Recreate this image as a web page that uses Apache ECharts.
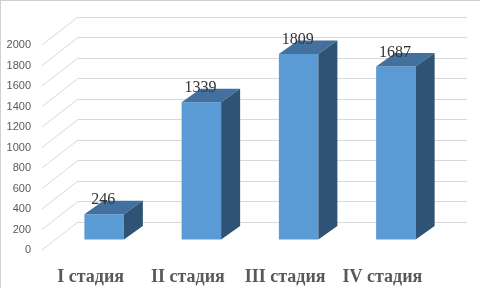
<!DOCTYPE html>
<html>
<head>
<meta charset="utf-8">
<script src="https://cdn.jsdelivr.net/npm/echarts@6/dist/echarts.min.js"></script>
<style>
html,body{margin:0;padding:0;background:#fff;}
#wrap{position:relative;width:480px;height:288px;}
#chart{position:absolute;left:0;top:0;width:480px;height:288px;}
#frame{position:absolute;left:0;top:0;width:480px;height:288px;box-sizing:border-box;border-left:1px solid #d0d0d0;border-top:1px solid #d0d0d0;pointer-events:none;}
</style>
</head>
<body>
<div id="wrap"><div id="chart"></div><div id="frame"></div></div>
<script>
const categories = ['I стадия', 'II стадия', 'III стадия', 'IV стадия'];
const values = [246, 1339, 1809, 1687];
const yTicks = [0, 200, 400, 600, 800, 1000, 1200, 1400, 1600, 1800, 2000];

const DEPTH_X = 36, DEPTH_Y = -28;      // wall depth
const BAR_Z0 = 0.375;                    // bar front position in depth
const BAR_DX = 19, BAR_DY = -13.5;       // bar depth
const BAR_W = 39.5;

const chart = echarts.init(document.getElementById('chart'), null, {renderer: 'canvas'});

const option = {
  backgroundColor: '#ffffff',
  animation: false,
  grid: [
    {left: 42, right: 49, top: 45, bottom: 38},
    {left: 78, right: 13, top: 17, bottom: 66}
  ],
  xAxis: [
    {
      type: 'category', data: categories, gridIndex: 0,
      axisLine: {show: false}, axisTick: {show: false},
      axisLabel: {interval: 0, fontFamily: 'Liberation Serif', fontWeight: 'bold', fontSize: 18, color: '#595959', margin: 18}
    },
    {type: 'category', data: categories, gridIndex: 1, show: false}
  ],
  yAxis: [
    {
      type: 'value', gridIndex: 0, min: 0, max: 2000, interval: 200,
      axisLine: {show: false}, axisTick: {show: false}, splitLine: {show: false},
      axisLabel: {formatter: v => String(v), fontFamily: 'Liberation Sans', fontSize: 11, color: '#595959', margin: 11}
    },
    {
      type: 'value', gridIndex: 1, min: 0, max: 2000, interval: 200,
      axisLine: {show: false}, axisTick: {show: false}, axisLabel: {show: false},
      splitLine: {show: true, lineStyle: {color: '#d9d9d9', width: 1}}
    }
  ],
  series: [
    {
      type: 'custom', xAxisIndex: 0, yAxisIndex: 0, silent: true,
      data: yTicks.map(v => [0, v]),
      renderItem: function (params, api) {
        const p = api.coord([0, api.value(1)]);
        const bw = api.size([1, 0])[0];
        const x0 = p[0] - bw / 2;
        return {
          type: 'line',
          shape: {x1: x0, y1: p[1], x2: x0 + DEPTH_X, y2: p[1] + DEPTH_Y},
          style: {stroke: '#d9d9d9', lineWidth: 1}
        };
      }
    },
    {
      type: 'custom', xAxisIndex: 0, yAxisIndex: 0, silent: true,
      data: values.map((v, i) => [i, v]),
      renderItem: function (params, api) {
        const i = api.value(0), v = api.value(1);
        const top = api.coord([i, v]);
        const base = api.coord([i, 0]);
        const cx = top[0] + BAR_Z0 * DEPTH_X;
        const yb = base[1] + BAR_Z0 * DEPTH_Y;
        const yt = top[1] + BAR_Z0 * DEPTH_Y;
        const xl = cx - BAR_W / 2, xr = cx + BAR_W / 2;
        return {
          type: 'group',
          children: [
            {type: 'rect', shape: {x: xl, y: yt, width: BAR_W, height: yb - yt}, style: {fill: '#5b9bd5'}},
            {type: 'polygon', shape: {points: [[xl, yt], [xr, yt], [xr + BAR_DX, yt + BAR_DY], [xl + BAR_DX, yt + BAR_DY]]}, style: {fill: '#42719f'}},
            {type: 'polygon', shape: {points: [[xr, yt], [xr + BAR_DX, yt + BAR_DY], [xr + BAR_DX, yb + BAR_DY], [xr, yb]]}, style: {fill: '#2e5374'}},
            {type: 'text', style: {text: String(v), x: cx - 1, y: yt - 14, align: 'center', verticalAlign: 'middle', fontFamily: 'Liberation Serif', fontSize: 16, fill: '#333333'}}
          ]
        };
      }
    }
  ]
};
chart.setOption(option);
</script>
</body>
</html>
